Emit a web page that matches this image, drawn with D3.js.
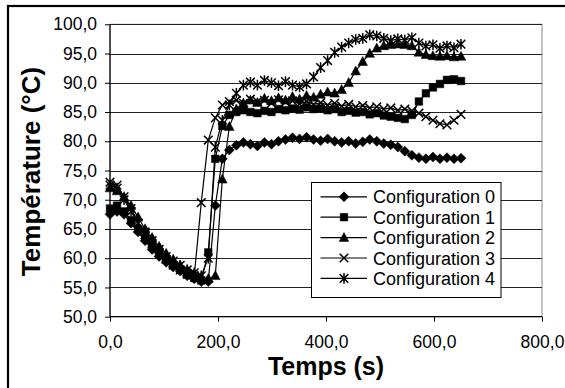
<!DOCTYPE html>
<html>
<head>
<meta charset="utf-8">
<script src="https://cdn.jsdelivr.net/npm/d3@7"></script>
<style>
  body { margin: 0; background: #fff; }
  svg { display: block; font-family: "Liberation Sans", Arial, sans-serif; }
</style>
</head>
<body>
<div id="chart"></div>
<script>
// temps de mesure (s)
const temps = [0, 13, 26, 39, 52, 65, 78, 91, 104, 117, 130, 143, 156, 169, 182, 195, 208, 221, 234, 247,
  260, 273, 286, 299, 312, 325, 338, 351, 364, 377, 390, 403, 416, 429, 442, 455, 468, 481, 494, 507,
  520, 533, 546, 559, 572, 585, 598, 611, 624, 637, 650];

const config0 = [67.5, 68.0, 67.5, 66.0, 64.5, 63.0, 61.5, 60.3, 59.3, 58.5, 57.8, 57.0, 56.5, 56.0, 56.0, 69.0, 77.0, 78.5, 79.3, 79.8,
  79.5, 79.2, 79.8, 79.5, 80.0, 80.3, 80.6, 80.4, 80.7, 80.3, 80.1, 80.4, 80.0, 79.8, 80.0, 79.6, 79.9, 80.3, 80.0, 79.6,
  79.4, 79.0, 78.3, 77.6, 77.2, 77.0, 77.3, 77.0, 77.2, 77.0, 77.1];
const config1 = [68.5, 69.0, 68.0, 66.5, 65.0, 63.5, 62.0, 60.8, 59.8, 58.8, 58.0, 57.2, 56.6, 56.2, 61.0, 77.0, 82.6, 84.5, 85.0, 85.3,
  85.0, 84.8, 85.2, 85.0, 85.5, 85.3, 85.6, 85.4, 85.8, 85.5, 85.6, 85.3, 85.5, 85.0, 85.2, 84.9, 85.0, 84.6, 84.8, 84.4,
  84.2, 84.0, 83.8, 84.5, 86.8, 88.2, 89.2, 89.8, 90.5, 90.6, 90.3];
const config2 = [72.0, 71.5, 70.5, 69.0, 67.0, 65.0, 63.5, 62.0, 60.8, 59.8, 58.8, 58.0, 57.4, 56.8, 56.5, 57.0, 73.5, 82.5, 85.5, 86.5,
  87.0, 86.6, 87.3, 86.9, 87.4, 87.0, 87.6, 87.2, 87.8, 87.5, 88.0, 88.4, 88.2, 88.8, 90.0, 92.0, 93.6, 95.0, 95.9, 96.3,
  96.5, 96.6, 96.5, 96.3, 95.2, 94.8, 94.6, 94.5, 94.6, 94.4, 94.5];
const config3 = [73.0, 72.5, 70.5, 68.5, 66.0, 64.0, 62.5, 61.0, 59.8, 58.8, 58.0, 57.3, 57.0, 69.5, 80.2, 84.0, 86.2, 86.8, 87.0, 86.5,
  87.2, 86.8, 87.0, 86.5, 87.1, 86.7, 86.9, 86.4, 86.8, 86.3, 86.6, 86.2, 86.5, 86.0, 86.3, 85.9, 86.1, 85.7, 85.9, 85.5,
  85.7, 85.3, 85.5, 85.2, 84.8, 84.2, 83.6, 83.0, 82.8, 83.6, 84.6];
const config4 = [72.5, 72.0, 70.0, 68.0, 66.0, 64.5, 63.0, 61.5, 60.3, 59.5, 58.8, 58.0, 57.5, 57.0, 60.0, 79.0, 83.6, 86.2, 88.2, 89.6,
  90.1, 89.6, 90.4, 90.0, 89.5, 90.2, 89.6, 89.3, 89.8, 91.0, 92.6, 93.8, 95.2, 96.1, 96.8, 97.4, 97.6, 98.2, 98.0, 97.6,
  97.2, 97.5, 97.3, 97.7, 96.8, 96.3, 96.5, 95.9, 96.3, 96.0, 96.6];

const seriesNames = ["Configuration 0", "Configuration 1", "Configuration 2", "Configuration 3", "Configuration 4"];
const markers = ["diamond", "square", "triangle", "x", "star"];
const xTicks = [0, 200, 400, 600, 800];
const yTicks = [50, 55, 60, 65, 70, 75, 80, 85, 90, 95, 100];

const series = [config0, config1, config2, config3, config4].map((vals, i) => ({
  name: seriesNames[i],
  marker: markers[i],
  points: vals.map((v, j) => ({ t: temps[j], v }))
}));

const W = 565, H = 388;
const plot = { left: 110, right: 542, top: 24.3, bottom: 316.7 };

const svg = d3.select("#chart").append("svg")
  .attr("width", W).attr("height", H);

// cadre extérieur
svg.append("rect")
  .attr("x", 8).attr("y", 6).attr("width", W + 20).attr("height", H + 20)
  .attr("fill", "#fff").attr("stroke", "#000").attr("stroke-width", 2.2);

const x = d3.scaleLinear().domain([0, 800]).range([plot.left, plot.right]);
const y = d3.scaleLinear().domain([50, 100]).range([plot.bottom, plot.top]);

const fmt = d => d.toFixed(1).replace(".", ",");

// bordure de la zone de tracé
svg.append("rect")
  .attr("x", plot.left).attr("y", plot.top)
  .attr("width", plot.right - plot.left).attr("height", plot.bottom - plot.top)
  .attr("fill", "none").attr("stroke", "#8c8c8c").attr("stroke-width", 1);

// quadrillage
svg.append("g").selectAll("line")
  .data(yTicks.slice(1))
  .join("line")
  .attr("x1", plot.left).attr("x2", plot.right)
  .attr("y1", d => Math.round(y(d)) + 0.5).attr("y2", d => Math.round(y(d)) + 0.5)
  .attr("stroke", "#222").attr("stroke-width", 1);

// axes
const yAxis = svg.append("g")
  .attr("transform", `translate(${plot.left},0)`)
  .call(d3.axisLeft(y).tickValues(yTicks).tickFormat(fmt).tickSize(5).tickPadding(8));
const xAxis = svg.append("g")
  .attr("transform", `translate(0,${plot.bottom})`)
  .call(d3.axisBottom(x).tickValues(xTicks).tickFormat(fmt).tickSize(5).tickPadding(14));

[yAxis, xAxis].forEach(a => {
  a.select(".domain").attr("stroke", "#000").attr("stroke-width", 1.2);
  a.selectAll(".tick line").attr("stroke", "#000");
  a.selectAll("text").attr("fill", "#000").style("font-size", "17.5px")
    .style("font-family", "'Liberation Sans', Arial, sans-serif");
});
xAxis.select(".domain").attr("d", `M${plot.left},0H${plot.right}`);
yAxis.select(".domain").attr("d", `M0,${plot.bottom}V${plot.top}`);

// titres des axes
svg.append("text")
  .attr("x", (plot.left + plot.right) / 2).attr("y", 375)
  .attr("text-anchor", "middle")
  .style("font-size", "25px").style("font-weight", "bold")
  .text("Temps (s)");

svg.append("text")
  .attr("transform", `translate(40,${(plot.top + plot.bottom) / 2 + 1}) rotate(-90)`)
  .attr("text-anchor", "middle")
  .style("font-size", "26px").style("font-weight", "bold")
  .text("Température (°C)");

// formes des marqueurs
function markerPath(type) {
  switch (type) {
    case "diamond": return "M0,-5L5,0L0,5L-5,0Z";
    case "square": return "M-3.8,-3.8H3.8V3.8H-3.8Z";
    case "triangle": return "M0,-5.2L4.8,3.8H-4.8Z";
    case "x": return "M-4.3,-4.3L4.3,4.3M-4.3,4.3L4.3,-4.3";
    case "star": return "M-4.3,-4.3L4.3,4.3M-4.3,4.3L4.3,-4.3M0,-5.3V5.3";
  }
}
const filled = t => t === "diamond" || t === "square" || t === "triangle";

const line = d3.line().x(d => x(d.t)).y(d => y(d.v));

const g = svg.append("g");
series.forEach(s => {
  g.append("path")
    .datum(s.points)
    .attr("fill", "none").attr("stroke", "#000").attr("stroke-width", 1.2)
    .attr("d", line);
  g.append("g").selectAll("path")
    .data(s.points)
    .join("path")
    .attr("transform", d => `translate(${x(d.t)},${y(d.v)})`)
    .attr("d", markerPath(s.marker))
    .attr("fill", filled(s.marker) ? "#000" : "none")
    .attr("stroke", "#000").attr("stroke-width", filled(s.marker) ? 0.5 : 1.5);
});

// légende
const legend = svg.append("g");
legend.append("rect")
  .attr("x", 311.5).attr("y", 182.5).attr("width", 189.5).attr("height", 115)
  .attr("fill", "#fff").attr("stroke", "#000").attr("stroke-width", 1);

const legY = d3.scalePoint().domain(seriesNames).range([196.8, 278.4]);
series.forEach(s => {
  const cy = legY(s.name);
  legend.append("line")
    .attr("x1", 320.5).attr("x2", 367).attr("y1", cy).attr("y2", cy)
    .attr("stroke", "#000").attr("stroke-width", 1.2);
  legend.append("path")
    .attr("transform", `translate(344,${cy})`)
    .attr("d", markerPath(s.marker))
    .attr("fill", filled(s.marker) ? "#000" : "none")
    .attr("stroke", "#000").attr("stroke-width", filled(s.marker) ? 0.5 : 1.5);
  legend.append("text")
    .attr("x", 373).attr("y", cy + 6.5)
    .style("font-size", "18px")
    .text(s.name);
});
</script>
</body>
</html>
